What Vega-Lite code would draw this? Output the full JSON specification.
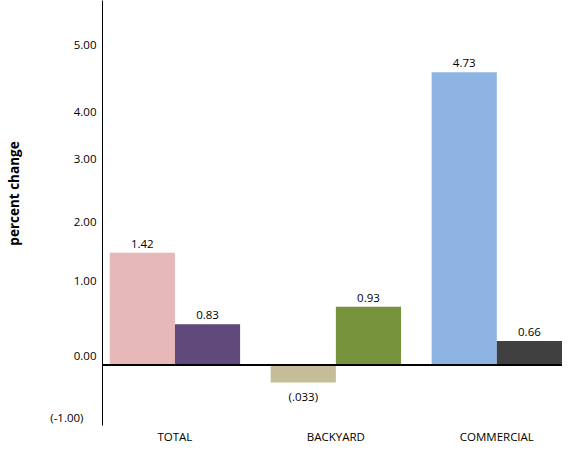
{
  "$schema": "https://vega.github.io/schema/vega-lite/v6.json",
  "width": 460,
  "height": 425,
  "autosize": "none",
  "padding": {"left": 102, "top": 0, "right": 10, "bottom": 25},
  "config": {
    "view": {"stroke": null},
    "font": "Open Sans",
    "axis": {"labelFont": "Open Sans", "labelColor": "black", "labelFontSize": 11.5, "titleColor": "black"}
  },
  "data": {
    "values": [
      {"group": "TOTAL", "sub": "1", "bar": "total-1", "value": 1.87, "label": "1.42"},
      {"group": "TOTAL", "sub": "2", "bar": "total-2", "value": 0.68, "label": "0.83"},
      {"group": "BACKYARD", "sub": "1", "bar": "backyard-1", "value": -0.29, "label": "(.033)"},
      {"group": "BACKYARD", "sub": "2", "bar": "backyard-2", "value": 0.97, "label": "0.93"},
      {"group": "COMMERCIAL", "sub": "1", "bar": "commercial-1", "value": 4.88, "label": "4.73"},
      {"group": "COMMERCIAL", "sub": "2", "bar": "commercial-2", "value": 0.40, "label": "0.66"}
    ]
  },
  "layer": [
    {
      "mark": {"type": "bar"},
      "encoding": {
        "x": {
          "field": "group", "type": "nominal",
          "sort": ["TOTAL", "BACKYARD", "COMMERCIAL"],
          "scale": {"paddingInner": 0.19, "paddingOuter": 0.024, "align": 1},
          "axis": {"title": null, "domain": false, "ticks": false, "labelAngle": 0, "labelPadding": 6}
        },
        "xOffset": {"field": "sub", "type": "nominal", "scale": {"paddingInner": 0}},
        "y": {
          "field": "value", "type": "quantitative",
          "scale": {"domain": [-1, 6.083], "nice": false, "zero": false},
          "axis": {
            "values": [-1, 0, 1, 2, 3, 4, 5],
            "labelExpr": "datum.value < 0 ? '(-' + format(abs(datum.value), '.2f') + ')' : format(datum.value, '.2f')",
            "ticks": false,
            "grid": false,
            "domainColor": "black",
            "labelPadding": {"condition": {"test": "datum.value < 0", "value": 19}, "value": 6},
            "labelOffset": {
              "condition": [
                {"test": "datum.value == 5", "value": -19},
                {"test": "datum.value == 4", "value": -12.5},
                {"test": "datum.value == 3", "value": -25},
                {"test": "datum.value == 2", "value": -22.5},
                {"test": "datum.value == 1", "value": -23},
                {"test": "datum.value == 0", "value": -8}
              ],
              "value": -7
            },
            "title": "percent change",
            "titleFontWeight": "bold",
            "titleFontSize": 13.5,
            "titleBaseline": "alphabetic",
            "titleX": -84,
            "titleY": 193
          }
        },
        "color": {
          "field": "bar", "type": "nominal", "legend": null,
          "scale": {
            "domain": ["total-1", "total-2", "backyard-1", "backyard-2", "commercial-1", "commercial-2"],
            "range": ["#E6B9B8", "#604A7B", "#C4BD97", "#77933C", "#8EB4E3", "#404040"]
          }
        }
      }
    },
    {
      "mark": {"type": "rule", "color": "black", "strokeWidth": 1},
      "encoding": {"y": {"datum": 0}}
    },
    {
      "transform": [{"filter": "datum.value >= 0"}],
      "mark": {"type": "text", "baseline": "bottom", "dy": -3, "fontSize": 11.5, "color": "black"},
      "encoding": {
        "x": {"field": "group", "type": "nominal", "sort": ["TOTAL", "BACKYARD", "COMMERCIAL"]},
        "xOffset": {"field": "sub", "type": "nominal"},
        "y": {"field": "value", "type": "quantitative"},
        "text": {"field": "label"}
      }
    },
    {
      "transform": [{"filter": "datum.value < 0"}],
      "mark": {"type": "text", "baseline": "top", "dy": 10, "fontSize": 11.5, "color": "black"},
      "encoding": {
        "x": {"field": "group", "type": "nominal", "sort": ["TOTAL", "BACKYARD", "COMMERCIAL"]},
        "xOffset": {"field": "sub", "type": "nominal"},
        "y": {"field": "value", "type": "quantitative"},
        "text": {"field": "label"}
      }
    }
  ]
}
